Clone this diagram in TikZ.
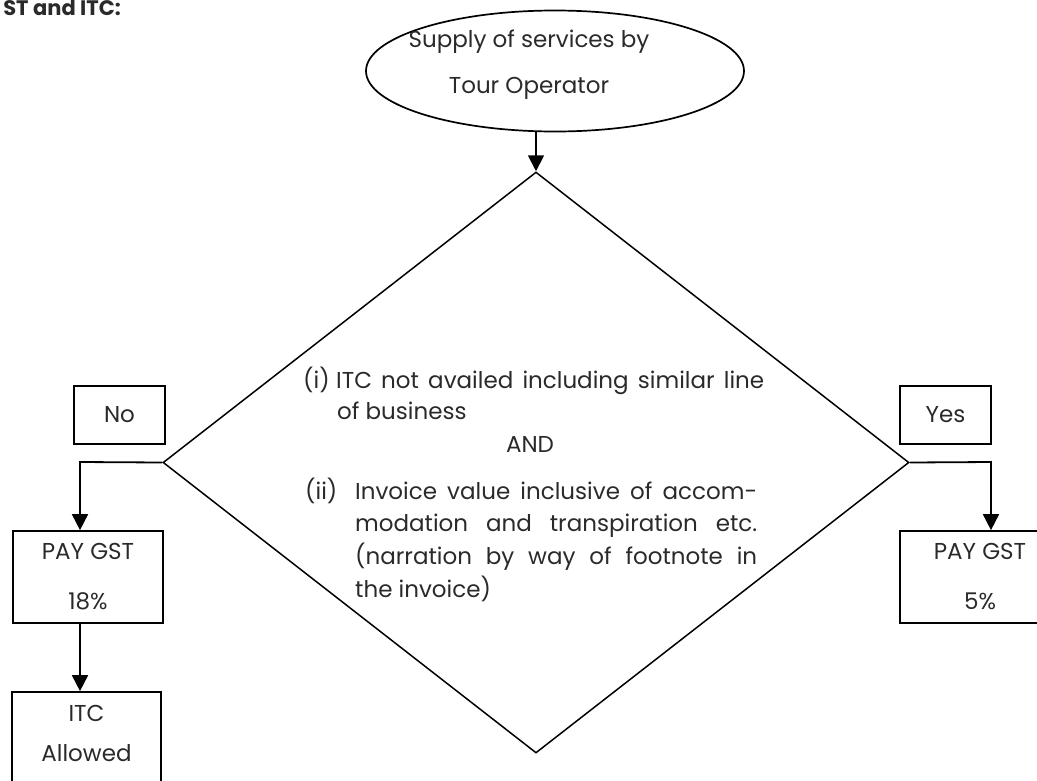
\documentclass[tikz,border=0pt]{standalone}
\usepackage{fontspec}
\setmainfont{Poppins}
\usetikzlibrary{shapes.geometric,arrows.meta}
\definecolor{txt}{HTML}{2A2A2A}
\begin{document}
\begin{tikzpicture}[x=1pt,y=-1pt,
  box/.style={draw=black,line width=1.7pt,rectangle,inner sep=0pt},
  arr/.style={draw=black,line width=1.8pt,-{Triangle[width=16pt,length=16pt]}},
  lbl/.style={inner sep=0pt,text=txt,font=\fontsize{23}{28}\selectfont},
  two/.style={lbl,align=center,font=\fontsize{23}{50}\selectfont},
  ln/.style={lbl,anchor=base west},
]
\useasboundingbox (0,0) rectangle (1037,780);
\clip (0,0) rectangle (1037,780);
% title
\node[inner sep=0pt,anchor=base east,text=txt,font=\bfseries\fontsize{21}{25}\selectfont] (title) at (121,15) {ST and ITC:};
% start ellipse
\node[draw=black,ellipse,line width=1.7pt,minimum width=378pt,minimum height=121pt,inner sep=0pt] (start) at (555,71) {};
\node[lbl] (s1) at (529,42) {Supply of services by};
\node[lbl] (s2) at (529,88) {Tour Operator};
% decision diamond
\node[draw=black,diamond,line width=1.5pt,minimum width=746pt,minimum height=581pt,inner sep=0pt] (dia) at (536,462.5) {};
\node[ln] (c1a) at (303,388) {(i)};
\node[ln] (c1b) at (336,388) {\makebox[428pt][s]{ITC not availed including similar line}};
\node[ln] (c2) at (337,419) {of business};
\node[lbl,anchor=base] (cand) at (530,452) {AND};
\node[ln] (c3a) at (305,499) {(ii)};
\node[ln] (c3b) at (355,499) {\makebox[402pt][s]{Invoice value inclusive of accom-}};
\node[ln] (c4) at (355,531) {\makebox[402pt][s]{modation and transpiration etc.}};
\node[ln] (c5) at (355,564) {\makebox[402pt][s]{(narration by way of footnote in}};
\node[ln] (c6) at (355,597) {the invoice)};
% yes / no labels
\node[box,lbl,draw=black,minimum width=91pt,minimum height=58pt] (no) at (119.5,415) {No};
\node[box,lbl,draw=black,minimum width=91pt,minimum height=58pt] (yes) at (945.5,415) {Yes};
% result boxes
\node[box,two,draw=black,minimum width=150pt,minimum height=92pt] (pay18) at (88,577) {PAY GST\\18\%};
\node[box,two,draw=black,minimum width=160pt,minimum height=92pt] (pay5) at (980,577) {PAY GST\\5\%};
\node[box,minimum width=149pt,minimum height=108pt] (itc) at (86.5,746) {};
\node[lbl,align=center,font=\fontsize{23}{40}\selectfont] (itctext) at (86.5,733) {ITC\\Allowed};
% connectors
\coordinate (lturn) at (80,462);
\coordinate (rturn) at (991,462);
\draw[arr] (start.south -| dia.north) -- (dia.north);
\draw[arr] (dia.west) -- (lturn) -- (lturn |- pay18.north);
\draw[arr] (dia.east) -- (rturn) -- (rturn |- pay5.north);
\draw[arr] (lturn |- pay18.south) -- (lturn |- itc.north);
\end{tikzpicture}
\end{document}
